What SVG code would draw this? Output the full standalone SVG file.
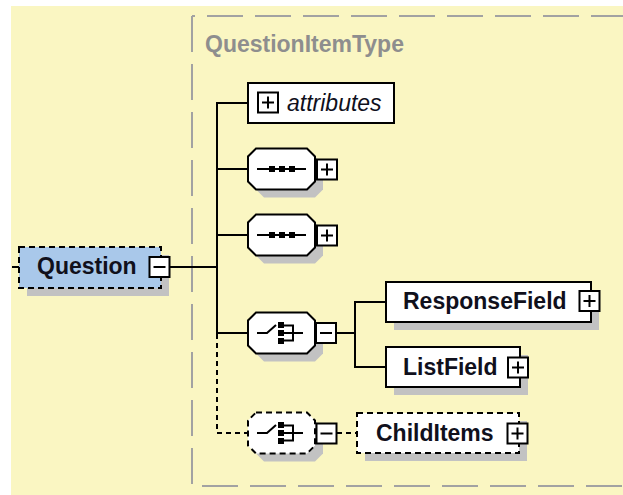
<svg xmlns="http://www.w3.org/2000/svg" width="623" height="495" viewBox="0 0 623 495">
<style>
.bg{fill:#FAF6C2}
.frame{fill:none;stroke:#A2A2A2;stroke-width:2;stroke-dasharray:36 12}
.title{font-family:"Liberation Sans",Arial,sans-serif;font-weight:bold;font-size:23px;fill:#8E8E8E}
.lbl{font-family:"Liberation Sans",Arial,sans-serif;font-weight:bold;font-size:23px;fill:#10101C}
.ital{font-family:"Liberation Sans",Arial,sans-serif;font-style:italic;font-size:23px;fill:#10101C}
.conn{fill:none;stroke:#000;stroke-width:2}
.dconn{fill:none;stroke:#000;stroke-width:2;stroke-dasharray:5 4}
.box{fill:#fff;stroke:#000;stroke-width:2}
.dbox{fill:#fff;stroke:#000;stroke-width:2;stroke-dasharray:6 4}
.gbox{fill:#A9C8EA;stroke:#000;stroke-width:2;stroke-dasharray:6 4}
.shadow{fill:#C2C2C2;stroke:none}
.pm{fill:#fff;stroke:#000;stroke-width:2}
.sign{fill:none;stroke:#000;stroke-width:2}
.icon{fill:none;stroke:#000;stroke-width:2}
.sq{fill:#000}
</style>
<defs>
<path id="oct" d="M8,-20.5 H59 L67,-12.5 V12.5 L59,20.5 H8 L0,12.5 V-12.5 Z"/>
<g id="plus"><rect x="-10" y="-10" width="20" height="20" class="pm"/><path d="M-6,0 H6 M0,-6 V6" class="sign"/></g>
<g id="minus"><rect x="-10" y="-10" width="20" height="20" class="pm"/><path d="M-6,0 H6" class="sign"/></g>
<g id="seqicon"><path d="M9,0 H58" class="icon"/><rect x="21" y="-3" width="6" height="6" class="sq"/><rect x="31" y="-3" width="6" height="6" class="sq"/><rect x="41" y="-3" width="6" height="6" class="sq"/></g>
<g id="choiceicon"><path d="M9,0 H19 L28,-8 M36,-7.5 H45 V7.5 H36 M36,0 H55" class="icon"/><rect x="30" y="-11" width="6" height="6" class="sq"/><rect x="30" y="-3" width="6" height="6" class="sq"/><rect x="30" y="5" width="6" height="6" class="sq"/></g>
</defs>

<rect class="bg" x="11" y="6" width="612" height="489"/>

<g id="frame">
<path class="frame" d="M192,16 V486"/>
<path class="frame" d="M192,16 H623" stroke-dashoffset="33"/>
<path class="frame" d="M202,486 H623"/>
<text class="title" x="205" y="52">QuestionItemType</text>
</g>

<g id="connectors">
<path class="conn" d="M12,267 H19"/>
<path class="conn" d="M170,267 H217"/>
<path class="conn" d="M248,103 H217 V333 H248"/>
<path class="conn" d="M217,169 H248 M217,235 H248"/>
<path class="dconn" d="M217,334 V433 H248"/>
<path class="conn" d="M336,333 H355 M386,302 H355 V367 H386"/>
<path class="dconn" d="M337,433 H357"/>
</g>

<g id="Question">
<rect class="shadow" x="27" y="255" width="142" height="41"/>
<rect class="gbox" x="19" y="247" width="142" height="41"/>
<text class="lbl" x="37" y="274">Question</text>
<use href="#minus" x="159.5" y="267"/>
</g>

<g id="attributes">
<rect class="box" x="248" y="83" width="146" height="40"/>
<use href="#plus" x="268" y="102.5"/>
<text class="ital" x="287" y="111">attributes</text>
</g>

<g id="sequence1">
<use href="#oct" class="shadow" x="256" y="177"/>
<use href="#oct" class="box" x="248" y="169"/>
<use href="#seqicon" x="248" y="169"/>
<use href="#plus" x="327" y="169.5"/>
</g>

<g id="sequence2">
<use href="#oct" class="shadow" x="256" y="243"/>
<use href="#oct" class="box" x="248" y="235"/>
<use href="#seqicon" x="248" y="235"/>
<use href="#plus" x="327" y="235.5"/>
</g>

<g id="choice">
<use href="#oct" class="shadow" x="256" y="341"/>
<use href="#oct" class="box" x="248" y="333"/>
<use href="#choiceicon" x="248" y="333"/>
<use href="#minus" x="326" y="333"/>
</g>

<g id="ResponseField">
<rect class="shadow" x="394" y="290" width="205" height="40"/>
<rect class="box" x="386" y="282" width="205" height="40"/>
<text class="lbl" x="403" y="309">ResponseField</text>
<use href="#plus" x="589.5" y="301"/>
</g>

<g id="ListField">
<rect class="shadow" x="394" y="355" width="134" height="40"/>
<rect class="box" x="386" y="347" width="134" height="40"/>
<text class="lbl" x="403" y="375">ListField</text>
<use href="#plus" x="518" y="367.5"/>
</g>

<g id="optionalChoice">
<use href="#oct" class="shadow" x="256" y="441"/>
<use href="#oct" class="dbox" x="248" y="433"/>
<use href="#choiceicon" x="248" y="433"/>
<use href="#minus" x="326.5" y="433.5"/>
</g>

<g id="ChildItems">
<rect class="shadow" x="365" y="421" width="162" height="40"/>
<rect class="dbox" x="357" y="413" width="162" height="40"/>
<text class="lbl" x="376" y="441">ChildItems</text>
<use href="#plus" x="517.5" y="433.5"/>
</g>
</svg>
